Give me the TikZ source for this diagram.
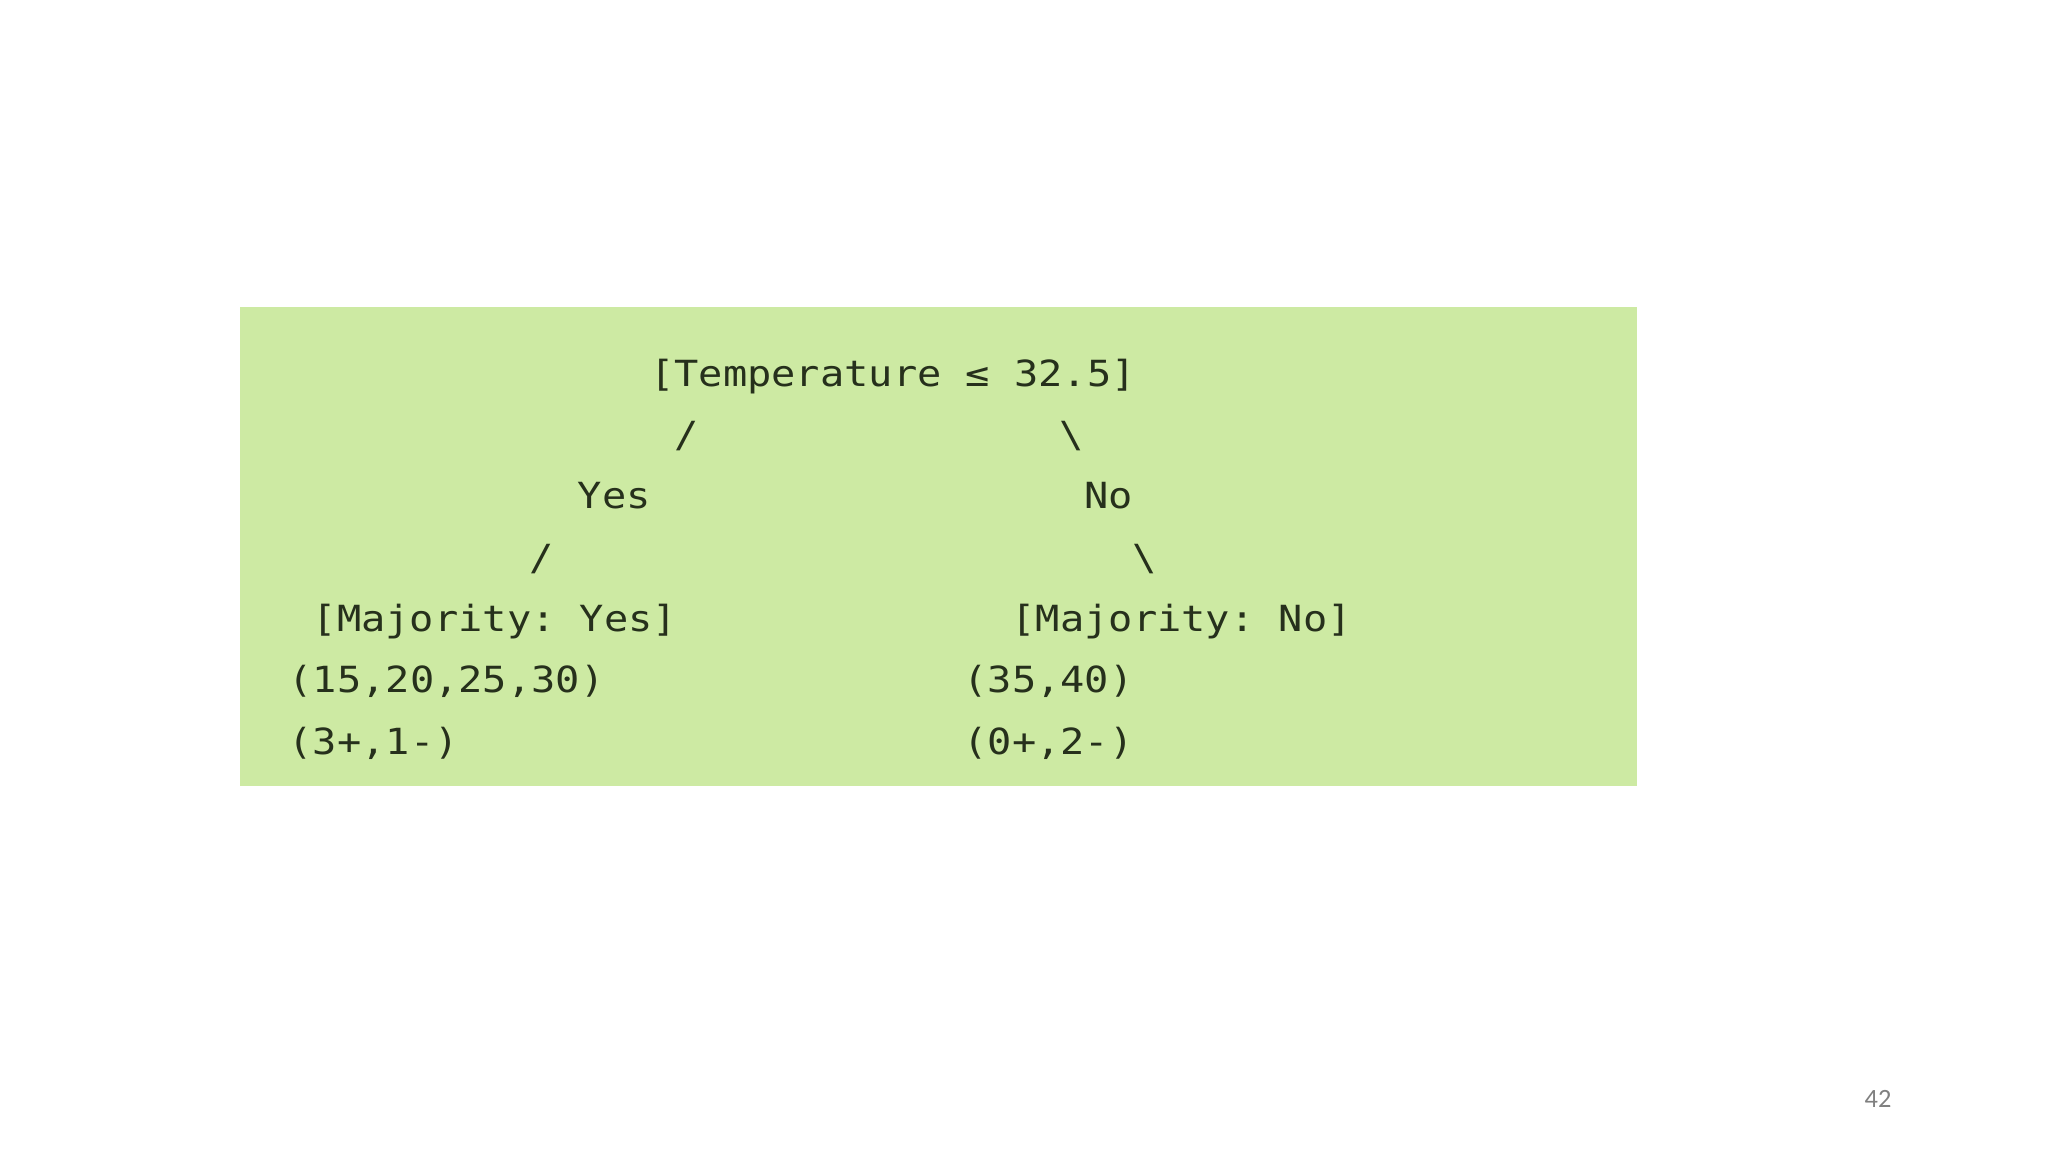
\documentclass[tikz,border=0pt]{standalone}
\usepackage{fontspec}
\newfontfamily\codefont[FakeStretch=1.12]{DejaVu Sans Mono}
\newfontfamily\slidefont{Carlito}
\definecolor{codebg}{RGB}{205,234,163}
\definecolor{codeink}{RGB}{38,48,28}
\definecolor{pagegray}{RGB}{128,128,128}
\begin{document}
\begin{tikzpicture}[x=0.01cm,y=-0.01cm,
  code/.style={anchor=base west, inner sep=0pt, outer sep=0pt, text=codeink,
    font=\codefont\fontsize{10.24pt}{12pt}\selectfont\frenchspacing},
  pagenum/.style={inner sep=0pt, text=pagegray, font=\slidefont\fontsize{7.5pt}{9pt}\selectfont}
]
\useasboundingbox (0,0) rectangle (2048,1152);
\fill[white] (0,0) rectangle (2048,1152);
\fill[codebg] (240,307) rectangle (1637,786);
% column grid: x = 288.7 + col*24.1 ; baselines every 61.3
\node[code] (root)    at ({288.7+15*24.1},386.4) {[Temperature ≤ 32.5]};
\node[code] (sl1)     at ({288.7+16*24.1},447.7) {/};
\node[code] (sr1)     at ({288.7+32*24.1},447.7) {\textbackslash};
\node[code] (yes)     at ({288.7+12*24.1},509.0) {Yes};
\node[code] (no)      at ({288.7+33*24.1},509.0) {No};
\node[code] (sl2)     at ({288.7+10*24.1},570.3) {/};
\node[code] (sr2)     at ({288.7+35*24.1},570.3) {\textbackslash};
\node[code] (majyes)  at ({288.7+1*24.1},631.6) {[Majority: Yes]};
\node[code] (majno)   at ({288.7+30*24.1},631.6) {[Majority: No]};
\node[code] (valyes)  at ({288.7+0*24.1},692.9) {(15,20,25,30)};
\node[code] (valno)   at ({288.7+28*24.1},692.9) {(35,40)};
\node[code] (cntyes)  at ({288.7+0*24.1},754.2) {(3+,1-)};
\node[code] (cntno)   at ({288.7+28*24.1},754.2) {(0+,2-)};
\node[pagenum] (page) at (1878,1099) {42};
\end{tikzpicture}
\end{document}
